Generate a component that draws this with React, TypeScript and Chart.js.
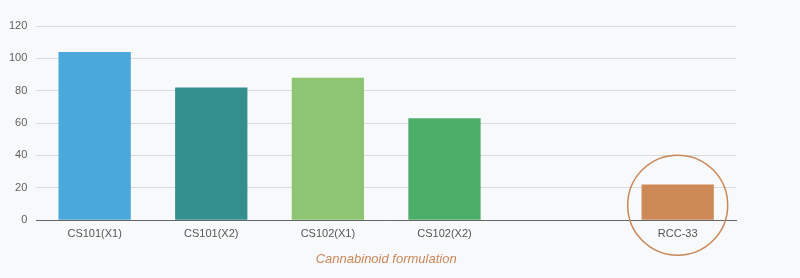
import React, { useEffect, useRef } from "react";
import { Chart, registerables } from "chart.js";

Chart.register(...registerables);

const categories = ["CS101(X1)", "CS101(X2)", "CS102(X1)", "CS102(X2)", "", "RCC-33"];
const values = [104, 82, 88, 63, null, 22];
const barColors = ["#4aa8dc", "#348f8f", "#8dc572", "#4caf69", "#ffffff", "#cd8a56"];
const highlightIndex = 5;
const xTitle = "Cannabinoid formulation";

const circlePlugin = {
  id: "circleHighlight",
  afterDatasetsDraw(chart: any) {
    const { ctx, scales } = chart;
    const x = scales.x.getPixelForValue(highlightIndex);
    const y = scales.y.getPixelForValue(0) - 15;
    ctx.save();
    ctx.beginPath();
    ctx.arc(x, y, 50, 0, Math.PI * 2);
    ctx.strokeStyle = "#c9875a";
    ctx.lineWidth = 1.5;
    ctx.stroke();
    ctx.restore();
  },
};

export default function App() {
  const ref = useRef<HTMLCanvasElement>(null);
  useEffect(() => {
    document.body.style.margin = "0";
    document.body.style.background = "#f8f9fa";
    const chart = new Chart(ref.current!, {
      type: "bar",
      data: {
        labels: categories,
        datasets: [
          {
            data: values as any,
            backgroundColor: barColors,
            borderWidth: 0,
            categoryPercentage: 1,
            barPercentage: 0.62,
          },
        ],
      },
      options: {
        animation: false,
        responsive: false,
        layout: { padding: { top: 26, right: 64, left: 0, bottom: 11 } },
        plugins: { legend: { display: false }, tooltip: { enabled: false } },
        scales: {
          x: {
            grid: { display: false, drawTicks: false },
            border: { color: "#666666", width: 1 },
            ticks: { color: "#555555", font: { family: "Liberation Sans", size: 11 }, padding: 7 },
            title: {
              display: true,
              text: xTitle,
              color: "#c9875a",
              font: { family: "Liberation Sans", size: 13, style: "italic" },
              padding: { top: 4, bottom: 0 },
            },
          },
          y: {
            min: 0,
            max: 120,
            ticks: {
              stepSize: 10,
              color: "#606060",
              font: { family: "Liberation Sans", size: 11 },
              padding: 9,
              callback: (v: any) => (Number(v) % 20 === 0 ? v : ""),
            },
            grid: {
              drawTicks: false,
              color: (c: any) => (c.tick && c.tick.value % 20 === 0 ? "#d9dbde" : "#eceef0"),
            },
            border: { display: false },
          },
        },
      },
      plugins: [circlePlugin],
    });
    return () => chart.destroy();
  }, []);
  return <canvas ref={ref} width={800} height={278} style={{ display: "block" }} />;
}
